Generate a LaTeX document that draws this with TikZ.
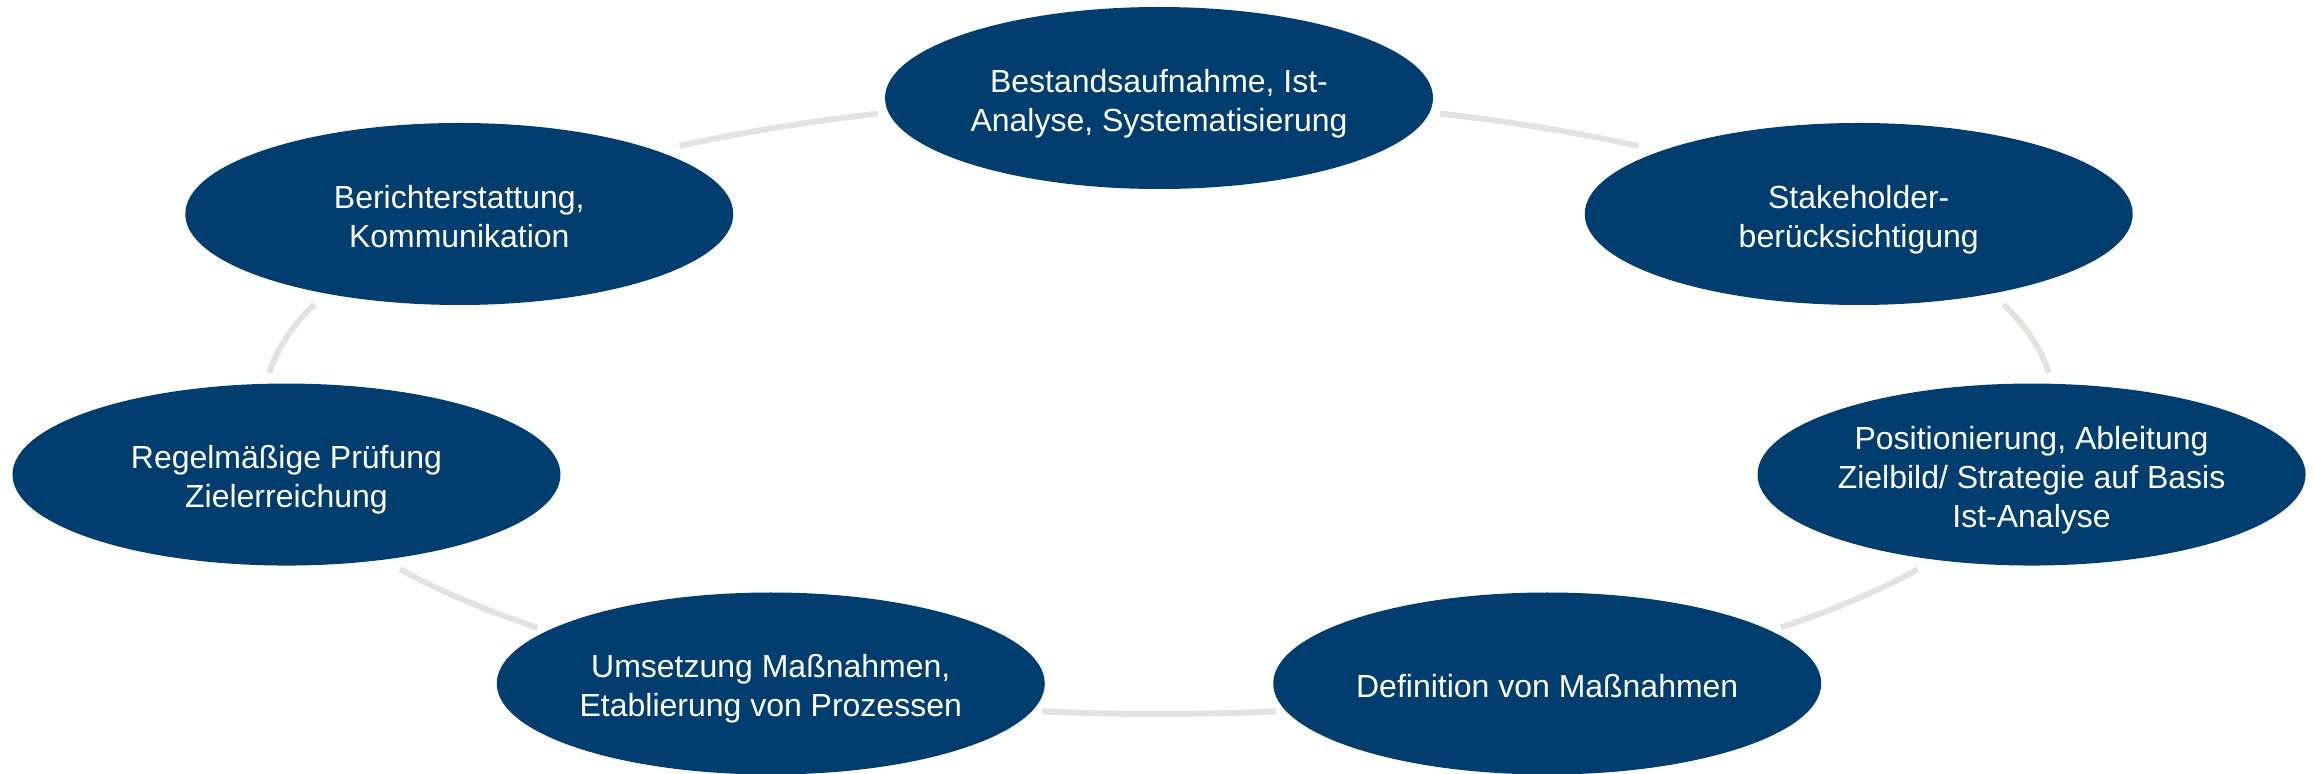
\documentclass[tikz,border=0pt]{standalone}
\usepackage{fontspec}
\setmainfont{Liberation Sans}
\usetikzlibrary{shapes.geometric,calc}
\definecolor{nodeblue}{RGB}{1,61,110}
\definecolor{arcgray}{RGB}{227,226,223}
\newcommand{\steptext}[1]{\raisebox{-1.7pt}[\height][\depth]{\begin{tabular}{@{}c@{}}#1\end{tabular}}}
\tikzset{
  stepnode/.style={ellipse, fill=nodeblue, draw=none, minimum width=5.48cm, minimum height=1.82cm,
    inner sep=0pt, text=white, font=\fontsize{9.1pt}{11.1pt}\selectfont},
  ringarc/.style={draw=arcgray, line width=0.06cm, line cap=butt}
}
\begin{document}
\begin{tikzpicture}
\useasboundingbox (0,0) rectangle (23.15,7.73);
\clip (0,0) rectangle (23.15,7.73);
\coordinate (C) at (11.59,3.67);
% arc end points on the ring
\coordinate (a1) at ($(C)+(71.7:8.95 and 3.08)$);
\coordinate (a2) at ($(C)+(19.3:8.95 and 3.08)$);
\coordinate (a3) at ($(C)+(-32:8.95 and 3.08)$);
\coordinate (a4) at ($(C)+(-82.5:8.95 and 3.08)$);
\coordinate (a5) at ($(C)+(-148:8.95 and 3.08)$);
\coordinate (a6) at ($(C)+(160.7:8.95 and 3.08)$);
\coordinate (a7) at ($(C)+(108.3:8.95 and 3.08)$);
\draw[ringarc] (a1) arc[start angle=71.7, end angle=57.6, x radius=8.95cm, y radius=3.08cm];
\draw[ringarc] (a2) arc[start angle=19.3, end angle=6.2, x radius=8.95cm, y radius=3.08cm];
\draw[ringarc] (a3) arc[start angle=-32, end angle=-46, x radius=8.95cm, y radius=3.08cm];
\draw[ringarc] (a4) arc[start angle=-82.5, end angle=-97.5, x radius=8.95cm, y radius=3.08cm];
\draw[ringarc] (a5) arc[start angle=-148, end angle=-134, x radius=8.95cm, y radius=3.08cm];
\draw[ringarc] (a6) arc[start angle=160.7, end angle=173.8, x radius=8.95cm, y radius=3.08cm];
\draw[ringarc] (a7) arc[start angle=108.3, end angle=122.4, x radius=8.95cm, y radius=3.08cm];
% nodes
\node[stepnode] (n1) at ($(C)+(90:8.95 and 3.08)$) {\steptext{Bestandsaufnahme, Ist-\\Analyse, Systematisierung}};
\node[stepnode] (n2) at ($(C)+(38.57:8.95 and 3.08)$) {\steptext{Stakeholder-\\berücksichtigung}};
\node[stepnode] (n3) at ($(C)+(-12.86:8.95 and 3.08)$) {\steptext{Positionierung, Ableitung\\Zielbild/ Strategie auf Basis\\Ist-Analyse}};
\node[stepnode] (n4) at ($(C)+(-64.29:8.95 and 3.08)$) {\steptext{Definition von Maßnahmen}};
\node[stepnode] (n5) at ($(C)+(-115.71:8.95 and 3.08)$) {\steptext{Umsetzung Maßnahmen,\\Etablierung von Prozessen}};
\node[stepnode] (n6) at ($(C)+(-167.14:8.95 and 3.08)$) {\steptext{Regelmäßige Prüfung\\Zielerreichung}};
\node[stepnode] (n7) at ($(C)+(141.43:8.95 and 3.08)$) {\steptext{Berichterstattung,\\Kommunikation}};
\end{tikzpicture}
\end{document}
